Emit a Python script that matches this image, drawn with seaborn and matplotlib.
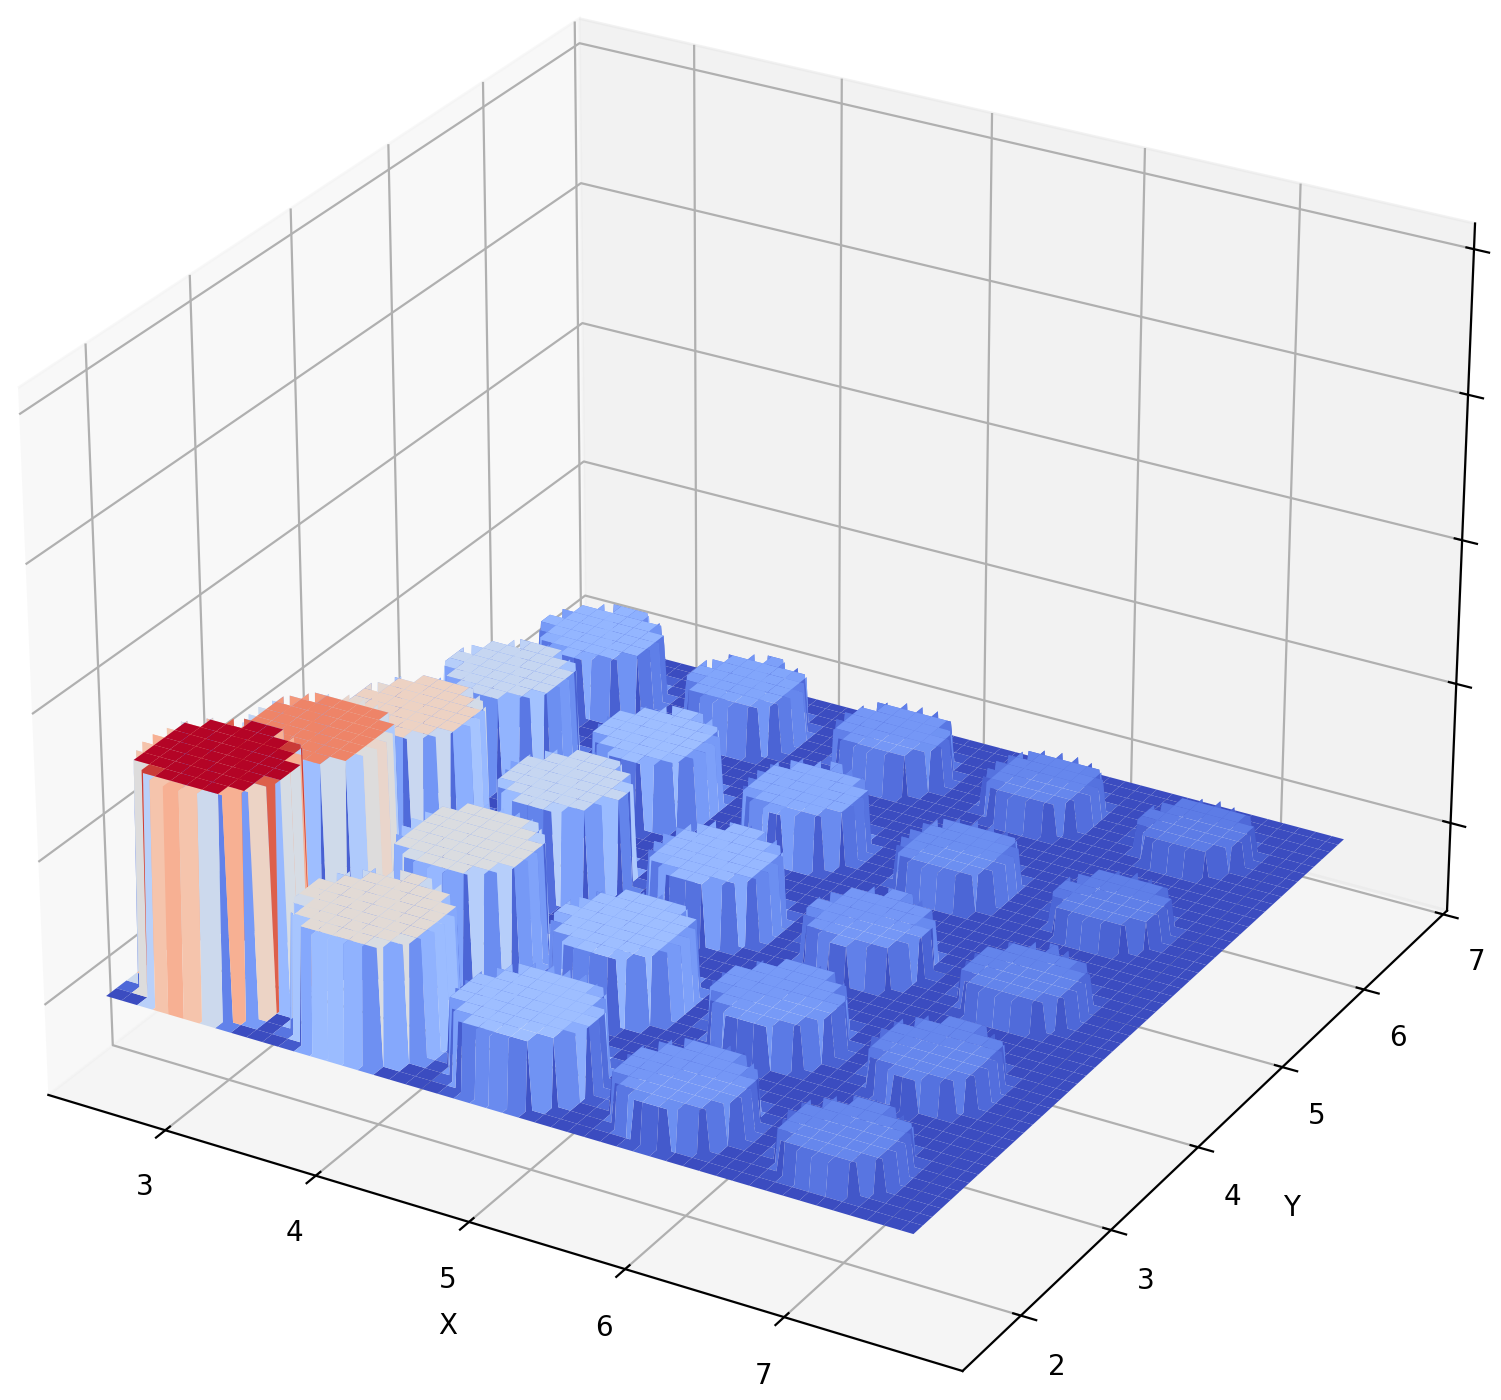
import numpy as np
import matplotlib
matplotlib.use("Agg")
import matplotlib.pyplot as plt
import seaborn as sns

# === Peak table ===
peak_x = [2.79, 3.80, 4.81, 5.82, 6.83]
peak_y = [2.30, 3.29, 4.29, 5.29, 6.30]
# rows follow peak_y, columns follow peak_x
peak_heights = [
    [1.00, 0.52, 0.30, 0.18, 0.14],
    [0.80, 0.49, 0.30, 0.19, 0.14],
    [0.57, 0.42, 0.28, 0.18, 0.13],
    [0.42, 0.30, 0.24, 0.16, 0.12],
    [0.27, 0.22, 0.18, 0.14, 0.11],
]
peak_radii = [
    [0.48, 0.47, 0.45, 0.41, 0.38],
    [0.45, 0.44, 0.42, 0.40, 0.385],
    [0.41, 0.40, 0.395, 0.38, 0.37],
    [0.40, 0.39, 0.375, 0.365, 0.35],
    [0.39, 0.37, 0.36, 0.355, 0.345],
]

x_ticks = [3, 4, 5, 6, 7]
y_ticks = [2, 3, 4, 5, 6, 7]
z_ticks = [0.104, 0.737, 1.38, 2.02, 2.65]

# === Surface grid ===
xs = np.linspace(2.30, 7.53, 200)
ys = np.linspace(1.83, 6.82, 200)
X, Y = np.meshgrid(xs, ys)
Z = np.zeros_like(X)
for j, py in enumerate(peak_y):
    for i, px in enumerate(peak_x):
        dist = (X - px) ** 2 + ((Y - py) / 0.947) ** 2
        Z[dist <= peak_radii[j][i] ** 2] = peak_heights[j][i]

# === Plot ===
cmap = sns.color_palette("coolwarm", as_cmap=True)
fig = plt.figure(figsize=(7.505, 7), dpi=200)
ax = fig.add_axes([-0.1069, -0.0665, 1.1985, 1.1593], projection="3d")
ax.view_init(elev=27.2, azim=-60)
ax.plot_surface(X, Y, Z, cmap=cmap, linewidth=0)
ax.set_xlim(2.21, 8.10)
ax.set_ylim(1.37, 7.05)
ax.set_zlim(-0.30, 2.76)
ax.set_xticks(x_ticks)
ax.set_yticks(y_ticks)
ax.set_zticks(z_ticks)
ax.set_zticklabels([])
ax.set_xlabel("X")
ax.set_ylabel("Y")
fig.savefig("out.png", dpi=200)
